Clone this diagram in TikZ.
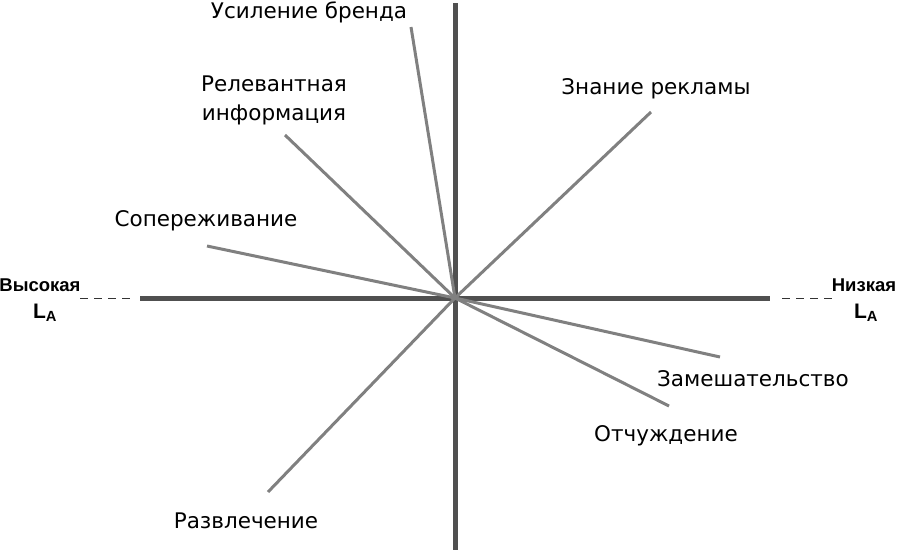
\documentclass[tikz,border=0pt]{standalone}
\usepackage{fontspec}
\setmainfont{DejaVu Sans}
\newfontfamily\headfont{Liberation Sans}
\usepackage{tikz}
\usetikzlibrary{positioning}
\usepackage{xcolor}
\definecolor{axisgray}{RGB}{80, 80, 80}
\definecolor{raygray}{RGB}{128, 128, 128}

\begin{document}
\begin{tikzpicture}[
    x=1pt, y=-1pt,
    axis/.style={draw=axisgray, line width=5pt},
    ray/.style={draw=raygray, line width=3pt},
    guide/.style={draw=black!80, line width=0.8pt, dash pattern=on 8pt off 6pt},
    tag/.style={font=\fontsize{21.5}{29}\selectfont, text=black, align=center, inner sep=0pt},
    endtag/.style={font=\headfont\bfseries\fontsize{18.5}{22}\selectfont, align=center, inner sep=0pt},
    subtag/.style={font=\headfont\bfseries\fontsize{21}{24}\selectfont, inner sep=0pt}
]
\useasboundingbox (0,0) rectangle (900,552);

% axes
\coordinate (O) at (455,298);
\coordinate (top) at (455,3);
\coordinate (bottom) at (455,550);
\coordinate (left) at (140,298);
\coordinate (right) at (770,298);
\draw[axis] (top) -- (bottom);
\draw[axis] (left) -- (right);

\coordinate (lguide) at (80,298);
\coordinate (rguide) at (832,298);
\draw[guide] (lguide) -- (135,298);
\draw[guide] (782,298) -- (rguide);

\node[endtag] (high) at (40,285) {Высокая};
\node[subtag] (highL) at (45,313) {L\textsubscript{A}};
\node[endtag] (low) at (864,285) {Низкая};
\node[subtag] (lowL) at (866,313) {L\textsubscript{A}};

% rays
\coordinate (brand) at (411,27);
\coordinate (info) at (285,135);
\coordinate (empathy) at (207,246);
\coordinate (aware) at (651,112);
\coordinate (confuse) at (720,357);
\coordinate (alien) at (669,406);
\coordinate (fun) at (268,492);

\foreach \e in {brand, info, empathy, aware, confuse, alien, fun}
    \draw[ray] (O) -- (\e);

\node[tag] (brandtxt) at (309,12) {Усиление бренда};
\node[tag] (infotxt) at (274,100) {Релевантная\\информация};
\node[tag] (empathytxt) at (206,221) {Сопереживание};
\node[tag] (awaretxt) at (656,89) {Знание рекламы};
\node[tag] (confusetxt) at (753,379) {Замешательство};
\node[tag] (alientxt) at (666,436) {Отчуждение};
\node[tag] (funtxt) at (246,521) {Развлечение};

\end{tikzpicture}
\end{document}
